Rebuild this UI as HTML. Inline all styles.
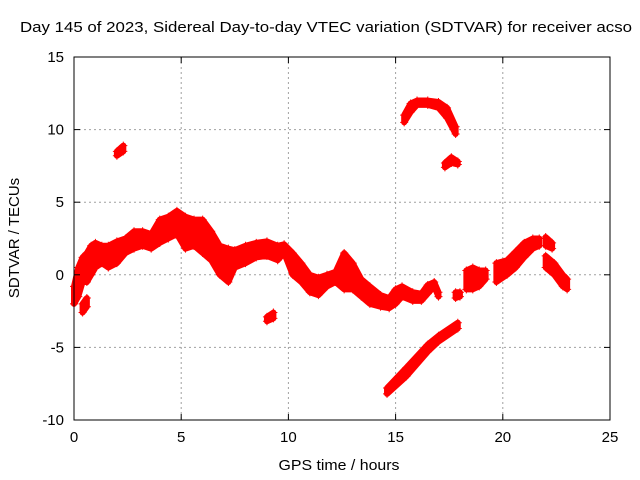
<!DOCTYPE html>
<html><head><meta charset="utf-8"><style>
body{margin:0;background:#fff}
svg{display:block;font-family:"Liberation Sans",sans-serif}
</style></head><body>
<svg id="c" width="640" height="480">
<text x="326" y="32" font-size="15" text-anchor="middle" textLength="612" lengthAdjust="spacingAndGlyphs">Day 145 of 2023, Sidereal Day-to-day VTEC variation (SDTVAR) for receiver acso</text>
<text x="339" y="470" font-size="15" text-anchor="middle" textLength="121" lengthAdjust="spacingAndGlyphs">GPS time / hours</text>
<text transform="translate(19,238) rotate(-90)" font-size="15" text-anchor="middle">SDTVAR / TECUs</text>
<g id="grid"></g><g id="marks"></g><g id="frame"></g>
</svg>
<script>
const xTicks=[0,5,10,15,20,25];
const yTicks=[-10,-5,0,5,10,15];
// each segment: rows of [hour, low, high]
const segMain=[[0.0,-2.0,-0.8],[0.2,-1.5,0.5],[0.4,-0.5,1.2],[0.6,-0.5,1.5],[0.8,0.0,2.0],[1.0,0.5,2.2],[1.3,0.8,2.0],[1.6,0.5,2.0],[2.0,0.8,2.3],[2.4,1.5,2.5],[2.8,1.8,3.0],[3.2,2.0,3.0],[3.6,1.8,2.8],[4.0,2.2,3.8],[4.4,2.5,4.0],[4.8,2.8,4.4],[5.2,1.8,4.0],[5.6,2.0,3.8],[6.0,1.5,3.8],[6.4,1.0,3.0],[6.8,0.0,2.0],[7.2,-0.5,1.8],[7.5,0.5,1.7],[8.0,0.8,2.0],[8.5,1.2,2.2],[9.0,1.3,2.3],[9.5,1.0,2.0],[9.8,1.5,2.1],[10.2,0.0,1.5],[10.6,-0.5,0.8],[11.0,-1.2,0.0],[11.4,-1.4,-0.2],[11.8,-0.8,0.0],[12.2,-0.5,0.2],[12.6,-1.0,1.5],[13.0,-1.0,0.8],[13.4,-1.5,-0.3],[13.8,-2.0,-0.8],[14.3,-2.2,-1.4],[14.7,-2.3,-1.6],[15.0,-2.0,-1.0],[15.3,-1.5,-0.8],[15.8,-1.8,-1.2],[16.2,-1.8,-1.3],[16.5,-1.3,-0.7],[16.8,-0.8,-0.5],[17.0,-1.5,-1.2]];
const segSmall1=[[17.8,-1.6,-1.2],[18.0,-1.5,-1.2]];
const segBlob=[[18.3,-1.0,0.3],[18.6,-1.0,0.5],[18.9,-0.8,0.3],[19.2,-0.3,0.3]];
const segRise=[[19.7,-0.5,0.8],[20.2,0.0,1.0],[20.6,0.5,1.6],[21.0,1.2,2.2],[21.4,1.8,2.5],[21.7,2.0,2.5]];
const segFall=[[22.0,2.0,2.6],[22.3,1.8,2.2]];
const segFall2=[[22.0,0.5,1.3],[22.4,0.0,0.8],[22.8,-0.8,0.0],[23.0,-1.0,-0.3]];
const segIso1=[[2.0,8.2,8.5],[2.3,8.5,8.9]];
const segIso2=[[0.4,-2.6,-2.0],[0.6,-2.2,-1.6]];
const segIso3=[[9.0,-3.2,-2.9],[9.3,-3.0,-2.6]];
const segArc=[[15.4,10.5,11.0],[15.7,11.2,11.8],[16.0,11.7,12.0],[16.5,11.7,12.0],[17.0,11.5,11.9],[17.4,10.8,11.5],[17.8,9.7,10.2]];
const segHook=[[17.3,7.4,7.7],[17.6,7.7,8.1],[17.9,7.6,7.8]];
const segLine=[[14.6,-8.2,-7.8],[15.5,-7.0,-6.4],[16.5,-5.3,-4.8],[17.0,-4.6,-4.2],[17.9,-3.7,-3.3]];
const segments=[segMain,segSmall1,segBlob,segRise,segFall,segFall2,segIso1,segIso2,segIso3,segArc,segHook,segLine];

const X0=74,X1=610,Y0=420,Y1=57;
const sx=v=>X0+(v-0)/(25-0)*(X1-X0);
const sy=v=>Y0-(v+10)/(15+10)*(Y0-Y1);
const NS='http://www.w3.org/2000/svg';
function mk(t,a,p){const e=document.createElementNS(NS,t);for(const k in a)e.setAttribute(k,a[k]);p.appendChild(e);return e;}
const grid=document.getElementById('grid'),marks=document.getElementById('marks'),frame=document.getElementById('frame');
xTicks.forEach(t=>{const x=sx(t);
 if(t>0&&t<25){const g=mk('line',{x1:x,x2:x,y1:Y1,y2:Y0,stroke:'#a0a0a0','stroke-dasharray':'2,3'},grid);
 
 }
 mk('line',{x1:x,x2:x,y1:Y0,y2:Y0-6,stroke:'#000'},frame);
 mk('line',{x1:x,x2:x,y1:Y1,y2:Y1+6,stroke:'#000'},frame);
 const l=mk('text',{x:x,y:Y0+22,'font-size':15,'text-anchor':'middle'},frame);l.textContent=t;
 
 });
yTicks.forEach(t=>{const y=sy(t);
 if(t>-10&&t<15){const g=mk('line',{x1:X0,x2:X1,y1:y,y2:y,stroke:'#a0a0a0','stroke-dasharray':'2,3'},grid);
 
 }
 mk('line',{x1:X0,x2:X0+6,y1:y,y2:y,stroke:'#000'},frame);
 mk('line',{x1:X1,x2:X1-6,y1:y,y2:y,stroke:'#000'},frame);
 const l=mk('text',{x:X0-10,y:y+5,'font-size':15,'text-anchor':'end'},frame);l.textContent=t;
 
 });
const fr=mk('rect',{x:X0,y:Y1,width:X1-X0,height:Y0-Y1,fill:'none',stroke:'#000'},frame);


segments.forEach(seg=>{
 const top=seg.map(r=>sx(r[0])+','+sy(r[2]));
 const bot=seg.slice().reverse().map(r=>sx(r[0])+','+sy(r[1]));
 const p=mk('polygon',{points:top.concat(bot).join(' '),fill:'#f00',stroke:'#f00','stroke-width':6,'stroke-linejoin':'round'},marks);
 
 
 seg.forEach(r=>{[r[1],r[2]].forEach(v=>{const x=sx(r[0]),y=sy(v);
  const m=mk('path',{d:`M${x-4},${y}h8M${x},${y-4}v8`,stroke:'#f00','stroke-width':1},marks);
  
  });});
});
</script>
</body></html>
